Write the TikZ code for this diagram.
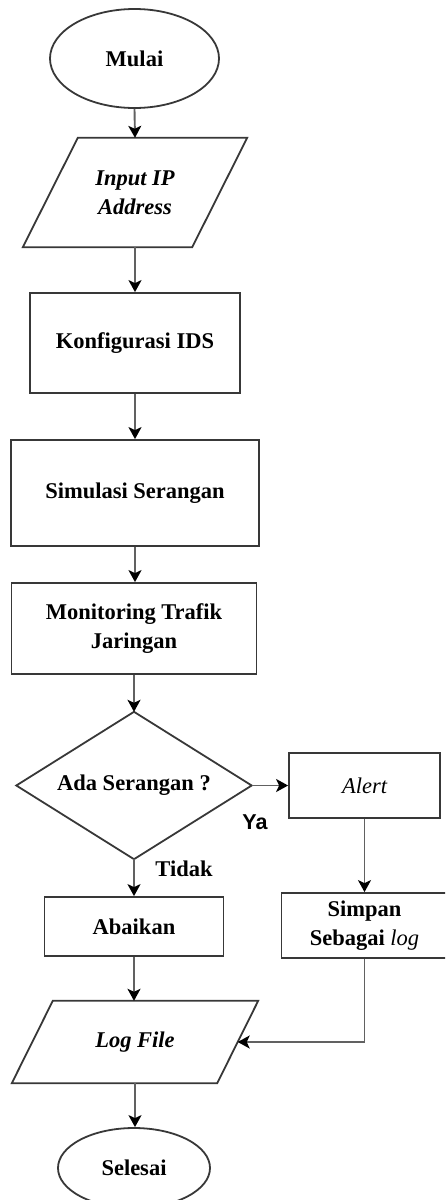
\documentclass[tikz,border=0pt]{standalone}
\usepackage{fontspec}
\setmainfont{Liberation Serif}
\newfontfamily\sansf{Liberation Sans}
\usetikzlibrary{arrows.meta,shapes.geometric}
\tikzset{
  box/.style={draw=black!78, line width=1.8pt, minimum width=#1, inner sep=0pt, align=center,
     font=\fontsize{22.5}{29}\selectfont\bfseries},
  oval/.style={draw=black!78, line width=1.8pt, ellipse, inner sep=0pt,
     font=\fontsize{22.5}{29}\selectfont\bfseries},
  ghost/.style={inner sep=0pt, align=center, font=\fontsize{22.5}{29}\selectfont\bfseries},
  shapeline/.style={draw=black!78, line width=1.8pt, line join=miter},
  conn/.style={draw=black!62, line width=1.9pt, -{Stealth[length=12pt,width=13pt,inset=3pt,color=black]}},
  lbl/.style={font=\fontsize{22.5}{29}\selectfont\bfseries, inner sep=0pt}
}
\begin{document}
\begin{tikzpicture}[x=1pt,y=-1pt]
\useasboundingbox (0,0) rectangle (445,1200);
\clip (0,0) rectangle (445,1200);
% nodes
\node[oval, minimum width=169pt, minimum height=99pt] (mulai) at (134.5,58.5) {Mulai};
\node[ghost, minimum width=169pt, minimum height=109pt] (inp) at (135,192.5) {\itshape Input IP\\\itshape Address};
\draw[shapeline] ([xshift=27.5pt]inp.north west) -- ([xshift=27.5pt]inp.north east)
   -- ([xshift=-27.5pt]inp.south east) -- ([xshift=-27.5pt]inp.south west) -- cycle;
\node[box=210pt, minimum height=100pt] (konf) at (135,343) {Konfigurasi IDS};
\node[box=248pt, minimum height=106pt] (sim) at (135,493) {Simulasi Serangan};
\node[box=245pt, minimum height=91pt] (mon) at (134,628.5) {Monitoring Trafik\\Jaringan};
\node[ghost, minimum width=235pt, minimum height=147pt] (dec) at (134,785.5) {Ada Serangan ?};
\draw[shapeline] (dec.north) -- (dec.east) -- (dec.south) -- (dec.west) -- cycle;
\node[box=151pt, minimum height=65pt] (alert) at (364.5,785.5) {\mdseries\itshape Alert};
\node[box=179pt, minimum height=59pt] (abai) at (134,926.5) {Abaikan};
\node[box=166pt, minimum height=65pt] (simpan) at (364.5,925.5) {Simpan\\Sebagai {\mdseries\itshape log}};
\node[ghost, minimum width=205pt, minimum height=82pt] (logf) at (135,1042) {\itshape Log File};
\draw[shapeline] ([xshift=20.5pt]logf.north west) -- ([xshift=20.5pt]logf.north east)
   -- ([xshift=-20.5pt]logf.south east) -- ([xshift=-20.5pt]logf.south west) -- cycle;
\node[oval, minimum width=152pt, minimum height=80pt] (sel) at (134,1168) {Selesai};
% labels
\node[lbl, font=\fontsize{21.5}{26}\selectfont\bfseries\sansf] (ya) at (255,822) {Ya};
\node[lbl] (tidak) at (184,869) {Tidak};
% connectors
\draw[conn] (mulai.south) -- (inp.north);
\draw[conn] (inp.south) -- (konf.north);
\draw[conn] (konf.south) -- (sim.north);
\draw[conn] (sim.south) -- (sim.south |- mon.north);
\draw[conn] (mon.south) -- (dec.north);
\draw[conn] (dec.east) -- (alert.west);
\draw[conn] (dec.south) -- (abai.north);
\draw[conn] (alert.south) -- (alert.south |- simpan.north);
\draw[conn] (abai.south) -- (abai.south |- logf.north);
\draw[conn] (simpan.south) |- (logf.east);
\draw[conn] (logf.south) -- (logf.south |- sel.north);
\end{tikzpicture}
\end{document}
